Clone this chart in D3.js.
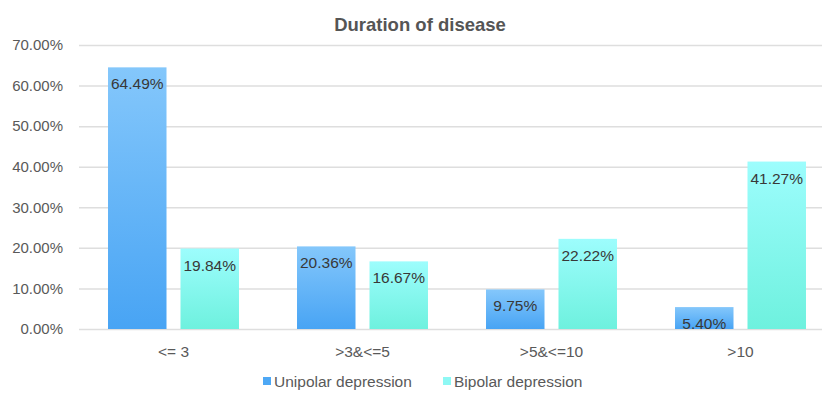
<!DOCTYPE html>
<html>
<head>
<meta charset="utf-8">
<script src="https://cdn.jsdelivr.net/npm/d3@7/dist/d3.min.js"></script>
<style>
  html, body { margin: 0; padding: 0; background: #fff; }
  svg { display: block; font-family: "Liberation Sans", Arial, Helvetica, sans-serif; }
</style>
</head>
<body>
<svg id="chart" width="822" height="400"></svg>
<script>
// Duration of disease, share of patients per group (%)
const categories = ["<= 3", ">3&<=5", ">5&<=10", ">10"];
const seriesNames = ["Unipolar depression", "Bipolar depression"];
const unipolar = [64.49, 20.36, 9.75, 5.40];
const bipolar = [19.84, 16.67, 22.22, 41.27];
const yTicks = [0, 10, 20, 30, 40, 50, 60, 70];

const seriesValues = [unipolar, bipolar];
const gradients = [
  { id: "gradUni", top: "#84c7fb", bottom: "#48a4f4" },
  { id: "gradBi", top: "#9dfdfd", bottom: "#6ef1de" }
];
const legendColors = ["#4ea8f5", "#8ef8f4"];

const svg = d3.select("#chart");
const margin = { left: 79, right: -13, top: 45, bottom: 71 };
const W = 822, H = 400;

const x0 = d3.scaleBand()
  .domain(categories)
  .range([margin.left, W - margin.right])
  .paddingInner(0.307)
  .paddingOuter(0.1535);

const x1 = d3.scaleBand()
  .domain(seriesNames)
  .range([0, x0.bandwidth()])
  .paddingInner(0.193);

const y = d3.scaleLinear()
  .domain([0, 70])
  .range([H - margin.bottom, margin.top]);

// gradients (one per series, relative to each bar)
const defs = svg.append("defs");
gradients.forEach(g => {
  const lg = defs.append("linearGradient")
    .attr("id", g.id)
    .attr("x1", 0).attr("y1", 0).attr("x2", 0).attr("y2", 1);
  lg.append("stop").attr("offset", "0%").attr("stop-color", g.top);
  lg.append("stop").attr("offset", "100%").attr("stop-color", g.bottom);
});

// title
svg.append("text")
  .attr("x", 420).attr("y", 31)
  .attr("text-anchor", "middle")
  .attr("font-size", 18.5)
  .attr("font-weight", "bold")
  .attr("fill", "#555555")
  .text("Duration of disease");

// gridlines + y axis labels
const yAxis = d3.axisLeft(y)
  .tickValues(yTicks)
  .tickSize(-(W - margin.left))
  .tickPadding(16)
  .tickFormat(d => d.toFixed(2) + "%");

const gy = svg.append("g")
  .attr("transform", `translate(${margin.left},0)`)
  .call(yAxis);
gy.select(".domain").remove();
gy.selectAll(".tick line")
  .attr("stroke", "#dedede")
  .attr("stroke-width", 1.5);
gy.selectAll(".tick text")
  .attr("font-size", 15)
  .attr("fill", "#595959")
  .attr("font-family", "Liberation Sans, Arial, sans-serif");

// x axis category labels
const xAxis = d3.axisBottom(x0).tickSize(0).tickPadding(17);
const gx = svg.append("g")
  .attr("transform", `translate(0,${H - margin.bottom})`)
  .call(xAxis);
gx.select(".domain").remove();
gx.selectAll(".tick text")
  .attr("font-size", 15.5)
  .attr("fill", "#595959")
  .attr("font-family", "Liberation Sans, Arial, sans-serif");

// bars
const groups = svg.append("g")
  .selectAll("g")
  .data(categories)
  .join("g")
  .attr("transform", d => `translate(${x0(d)},0)`);

groups.selectAll("rect")
  .data((c, i) => seriesNames.map((s, k) => ({ s, k, v: seriesValues[k][i] })))
  .join("rect")
  .attr("x", d => x1(d.s))
  .attr("width", x1.bandwidth())
  .attr("y", d => y(d.v))
  .attr("height", d => y(0) - y(d.v))
  .attr("fill", d => `url(#${gradients[d.k].id})`);

// value labels at the inside top of each bar
groups.selectAll("text.val")
  .data((c, i) => seriesNames.map((s, k) => ({ s, k, v: seriesValues[k][i] })))
  .join("text")
  .attr("class", "val")
  .attr("x", d => x1(d.s) + x1.bandwidth() / 2)
  .attr("y", d => y(d.v) + 22)
  .attr("text-anchor", "middle")
  .attr("font-size", 15.5)
  .attr("fill", "#383838")
  .text(d => d.v.toFixed(2) + "%");

// legend
const legendItems = [
  { name: seriesNames[0], x: 263 },
  { name: seriesNames[1], x: 443 }
];
const lg = svg.append("g");
legendItems.forEach((it, k) => {
  lg.append("rect")
    .attr("x", it.x).attr("y", 377)
    .attr("width", 8).attr("height", 8)
    .attr("fill", legendColors[k]);
  lg.append("text")
    .attr("x", it.x + 11).attr("y", 386.5)
    .attr("font-size", 15.5)
    .attr("fill", "#595959")
    .text(it.name);
});
</script>
</body>
</html>
